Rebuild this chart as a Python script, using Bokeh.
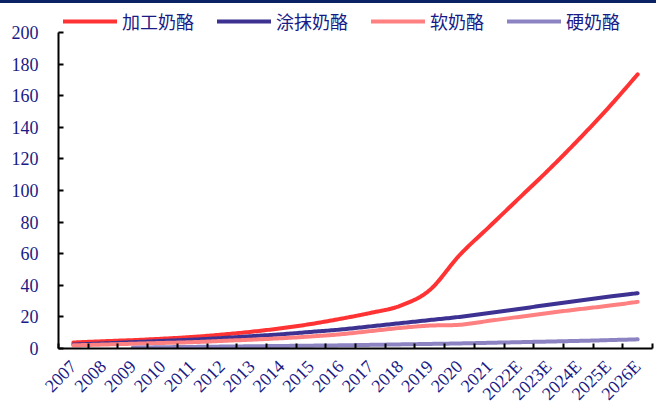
import math
from bokeh.plotting import figure
from bokeh.models import (Range1d, FixedTicker, Legend, LegendItem, Div)
from bokeh.layouts import column
from bokeh.embed import file_html
from bokeh.resources import INLINE

# Years on the category axis
years = ["2007", "2008", "2009", "2010", "2011", "2012", "2013", "2014", "2015", "2016",
         "2017", "2018", "2019", "2020", "2021", "2022E", "2023E", "2024E", "2025E", "2026E"]

# Cheese consumption by type
processed = [3.8, 4.6, 5.3, 6.2, 7.3, 8.8, 10.6, 12.8, 15.5, 18.8,
             22.5, 27.0, 37.0, 59.0, 77.0, 95.0, 113.0, 132.0, 152.0, 173.5]
spread = [2.5, 3.2, 4.0, 4.8, 5.6, 6.6, 7.8, 9.0, 10.5, 12.0,
          14.0, 16.0, 18.0, 20.0, 22.5, 25.0, 27.7, 30.2, 32.8, 35.0]
soft = [2.0, 2.5, 3.0, 3.5, 4.0, 4.8, 5.6, 6.5, 7.6, 9.0,
        11.0, 13.0, 14.5, 15.0, 17.5, 20.0, 22.5, 24.8, 27.0, 29.5]
hard = [None, None, 0.5, 0.8, 1.0, 1.2, 1.4, 1.6, 1.8, 2.0,
        2.3, 2.6, 2.9, 3.2, 3.6, 4.0, 4.4, 4.8, 5.3, 5.8]

y_ticks = list(range(0, 201, 20))

series_names = ["加工奶酪", "涂抹奶酪", "软奶酪", "硬奶酪"]
series_colors = ["#FF3333", "#3D3192", "#FF8080", "#8C84C2"]

NAVY = "#1A1A86"


def smooth(xs, ys, steps=16):
    """Catmull-Rom spline through the points (x, y)."""
    pts = [(x, y) for x, y in zip(xs, ys) if y is not None]
    if len(pts) < 2:
        return [p[0] for p in pts], [p[1] for p in pts]
    ox, oy = [], []
    n = len(pts)
    for i in range(n - 1):
        p0 = pts[i - 1] if i > 0 else pts[i]
        p1 = pts[i]
        p2 = pts[i + 1]
        p3 = pts[i + 2] if i + 2 < n else pts[i + 1]
        for s in range(steps):
            t = s / steps
            t2, t3 = t * t, t * t * t
            for k, out in ((0, ox), (1, oy)):
                v = 0.5 * ((2 * p1[k]) + (-p0[k] + p2[k]) * t
                           + (2 * p0[k] - 5 * p1[k] + 4 * p2[k] - p3[k]) * t2
                           + (-p0[k] + 3 * p1[k] - 3 * p2[k] + p3[k]) * t3)
                out.append(v)
    ox.append(pts[-1][0])
    oy.append(pts[-1][1])
    return ox, oy


centers = [i + 0.5 for i in range(len(years))]

# the frame reaches a little above 200 so the legend row sits inside it;
# the y axis line itself stops at 200
p = figure(width=656, height=411, output_backend="svg", toolbar_location=None,
           x_range=Range1d(0, len(years)), y_range=Range1d(0, 215.8),
           min_border_left=58, min_border_right=4, min_border_top=4, min_border_bottom=66)
p.outline_line_color = None
p.xgrid.grid_line_color = None
p.ygrid.grid_line_color = None
p.background_fill_color = "white"
p.border_fill_color = "white"

renderers = []
for name, vals, color in zip(series_names, [processed, spread, soft, hard], series_colors):
    sx, sy = smooth(centers, vals)
    r = p.line(sx, sy, line_color=color, line_width=4, line_cap="round", line_join="round")
    renderers.append((name, r))

# x axis: labels at category centres, tick marks at category boundaries
xa = p.xaxis[0]
xa.ticker = FixedTicker(ticks=centers, minor_ticks=list(range(len(years) + 1)))
xa.major_label_overrides = {c: y for c, y in zip(centers, years)}
xa.major_tick_in = 0
xa.major_tick_out = 0
xa.minor_tick_in = 5
xa.minor_tick_out = 0
xa.minor_tick_line_color = "black"
xa.minor_tick_line_width = 2
xa.axis_line_color = "black"
xa.axis_line_width = 2
xa.major_label_orientation = math.pi / 4
xa.major_label_standoff = 15
xa.major_label_text_font = "Liberation Serif"
xa.major_label_text_font_size = "18px"
xa.major_label_text_color = NAVY

ya = p.yaxis[0]
ya.bounds = (y_ticks[0], y_ticks[-1])
ya.ticker = FixedTicker(ticks=y_ticks, minor_ticks=[])
ya.major_tick_in = 5
ya.major_tick_out = 0
ya.major_tick_line_color = "black"
ya.major_tick_line_width = 2
ya.minor_tick_line_color = None
ya.axis_line_color = "black"
ya.axis_line_width = 2
ya.major_label_standoff = 20
ya.major_label_text_font = "Liberation Serif"
ya.major_label_text_font_size = "18px"
ya.major_label_text_color = NAVY

legend = Legend(items=[LegendItem(label=n, renderers=[r]) for n, r in renderers],
                orientation="horizontal", location=(5, 314),
                glyph_width=54, glyph_height=26, label_height=26,
                label_standoff=5, spacing=23, padding=0, margin=0,
                border_line_color=None, background_fill_alpha=0,
                label_text_font="Noto Sans CJK SC", label_text_font_size="18px",
                label_text_color=NAVY)
p.add_layout(legend, "center")

bar = Div(width=656, height=3, margin=0, styles={"background-color": "#0B2265"})

layout = column(bar, p, spacing=0)
open("out.html", "w").write(file_html(layout, INLINE))
